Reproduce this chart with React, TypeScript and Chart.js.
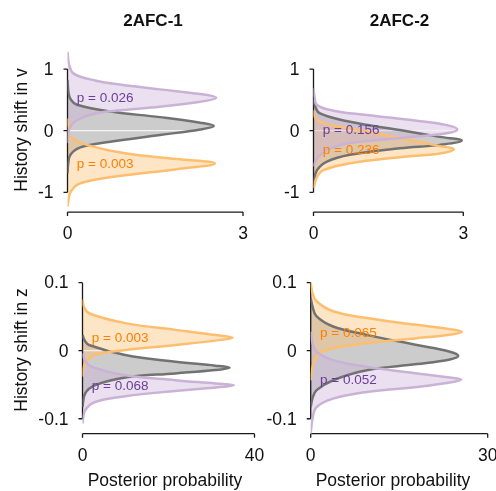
import React, { useEffect, useRef } from "react";
import { Chart, registerables } from "chart.js";
Chart.register(...registerables);

const W = 496;
const H = 491;

// ---- data: [history shift value, posterior density] ----
const afc1V_purple: number[][] = [[1.28, 0], [1.1, 0.02], [0.98, 0.06], [0.93, 0.1], [0.875, 0.22], [0.82, 0.45], [0.77, 0.73], [0.67, 1.58], [0.595, 2.27], [0.535, 2.54], [0.47, 2.27], [0.39, 1.58], [0.33, 0.9], [0.27, 0.44], [0.17, 0.16], [0.05, 0.04], [-0.1, 0.01], [-0.2, 0]];
const afc1V_gray: number[][] = [[0.82, 0], [0.6, 0.02], [0.5, 0.06], [0.42, 0.16], [0.31, 0.73], [0.22, 1.58], [0.13, 2.27], [0.076, 2.5], [0.02, 2.27], [-0.07, 1.58], [-0.18, 0.73], [-0.27, 0.22], [-0.39, 0.05], [-0.55, 0.01], [-0.69, 0]];
const afc1V_orange: number[][] = [[0.2, 0], [0.05, 0.02], [-0.1, 0.05], [-0.23, 0.33], [-0.37, 1.01], [-0.46, 1.87], [-0.53, 2.52], [-0.625, 1.87], [-0.72, 1.01], [-0.8, 0.44], [-0.88, 0.16], [-1.0, 0.05], [-1.1, 0.02], [-1.23, 0]];

const afc2V_purple: number[][] = [[0.69, 0], [0.55, 0.02], [0.417, 0.07], [0.325, 0.4], [0.255, 1.07], [0.16, 2.07], [0.09, 2.67], [0.02, 2.88], [-0.04, 2.67], [-0.12, 1.73], [-0.2, 0.73], [-0.31, 0.27], [-0.45, 0.07], [-0.58, 0]];
const afc2V_gray: number[][] = [[0.5, 0], [0.4, 0.03], [0.28, 0.13], [0.145, 0.73], [0.01, 1.73], [-0.1, 2.53], [-0.16, 2.97], [-0.23, 2.53], [-0.285, 1.73], [-0.39, 0.73], [-0.5, 0.27], [-0.64, 0.07], [-0.85, 0]];
const afc2V_orange: number[][] = [[0.33, 0], [0.2, 0.04], [0.1, 0.3], [0.04, 0.73], [-0.12, 1.73], [-0.25, 2.53], [-0.3, 2.81], [-0.37, 2.53], [-0.43, 1.73], [-0.53, 0.73], [-0.64, 0.2], [-0.75, 0.07], [-0.93, 0]];

const afc1Z_orange: number[][] = [[0.0754, 0], [0.065, 0.3], [0.055, 1.5], [0.0405, 9.95], [0.0306, 21.6], [0.0232, 30.9], [0.0192, 34.9], [0.0148, 30.9], [0.0084, 21.6], [0.001, 9.95], [-0.0064, 2.96], [-0.0187, 0.6], [-0.038, 0]];
const afc1Z_gray: number[][] = [[0.023, 0], [0.015, 0.5], [0.0084, 1.5], [-0.0064, 9.95], [-0.0163, 21.6], [-0.022, 30.9], [-0.0251, 34.2], [-0.0285, 30.9], [-0.0334, 21.6], [-0.0393, 9.95], [-0.0507, 2.96], [-0.063, 0.6], [-0.0828, 0]];
const afc1Z_purple: number[][] = [[-0.0039, 0], [-0.015, 0.6], [-0.0237, 2.2], [-0.036, 9.95], [-0.0433, 21.6], [-0.0482, 30.9], [-0.0507, 35.2], [-0.0541, 30.9], [-0.0591, 21.6], [-0.067, 9.95], [-0.0754, 2.96], [-0.0877, 0.6], [-0.107, 0]];

const afc2Z_orange: number[][] = [[0.1, 0], [0.085, 0.3], [0.0727, 1.0], [0.0579, 3.8], [0.048, 9.5], [0.038, 18], [0.0317, 23.6], [0.0277, 25.6], [0.0233, 23.6], [0.0184, 18], [0.011, 9.5], [0.001, 2.7], [-0.0089, 1.0], [-0.025, 0.3], [-0.0434, 0]];
const afc2Z_gray: number[][] = [[0.0777, 0], [0.065, 0.3], [0.0504, 1.0], [0.0356, 3.8], [0.0233, 9.5], [0.0084, 18], [-0.0015, 23.6], [-0.0079, 25.0], [-0.0128, 23.6], [-0.0197, 18], [-0.0287, 9.5], [-0.0434, 3.8], [-0.058, 1.0], [-0.07, 0.3], [-0.083, 0]];
const afc2Z_purple: number[][] = [[0.028, 0], [0.012, 0.3], [-0.0015, 1.0], [-0.0138, 3.8], [-0.0237, 9.5], [-0.0335, 18], [-0.0394, 23.6], [-0.0424, 25.5], [-0.0468, 23.6], [-0.0533, 18], [-0.0607, 9.5], [-0.0705, 3.8], [-0.083, 1.0], [-0.1, 0.3], [-0.122, 0]];

// p-values shown next to each group's peak (panels: 1v, 2v, 1z, 2z)
const pPurple = ["0.026", "0.156", "0.068", "0.052"];
const pOrange = ["0.003", "0.236", "0.003", "0.065"];

// ticks
const vTicks = [-1, 0, 1];
const vTickLabels = ["-1", "0", "1"];
const zTicks = [-0.1, 0, 0.1];
const zTickLabels = ["-0.1", "0", "0.1"];
const xTicksV = [0, 3];
const xTickLabelsV = ["0", "3"];
const xTicksZ1 = [0, 40];
const xTickLabelsZ1 = ["0", "40"];
const xTicksZ2 = [0, 30];
const xTickLabelsZ2 = ["0", "30"];

const columnTitles = ["2AFC-1", "2AFC-2"];
const rowTitles = ["History shift in v", "History shift in z"];
const xTitle = "Posterior probability";

// ---- styles ----
const PURPLE_LINE = "#cab2d6";
const PURPLE_FILL = "rgba(202,178,214,0.4)";
const PURPLE_TEXT = "#6a3d9a";
const ORANGE_LINE = "#fdbf6f";
const ORANGE_FILL = "rgba(253,191,111,0.4)";
const ORANGE_TEXT = "#ff7f00";
const GRAY_LINE = "#727272";
const GRAY_FILL = "rgba(128,128,128,0.4)";
const AXIS = "#1a1a1a";
const FONT = '"Liberation Sans", Arial, Helvetica, sans-serif';

type Series = { pts: number[][]; line: string; fill: string; label?: string; textColor?: string };
type Panel = {
  area: { left: number; right: number; top: number; bottom: number };
  yMin: number; yMax: number; xMax: number;
  yTicks: number[]; yTickLabels: string[]; xTicks: number[]; xTickLabels: string[];
  series: Series[];
  zeroLine: string | null;
  title?: { text: string; x: number; y: number };
  yTitle?: { text: string; x: number; y: number };
  xTitle?: { text: string; x: number; y: number };
};

const panels: Panel[] = [
  {
    area: { left: 67.5, right: 243, top: 49.3, bottom: 212.1 },
    yMin: -1.32, yMax: 1.32, xMax: 3,
    yTicks: vTicks, yTickLabels: vTickLabels, xTicks: xTicksV, xTickLabels: xTickLabelsV,
    series: [
      { pts: afc1V_purple, line: PURPLE_LINE, fill: PURPLE_FILL, label: "p = " + pPurple[0], textColor: PURPLE_TEXT },
      { pts: afc1V_orange, line: ORANGE_LINE, fill: ORANGE_FILL, label: "p = " + pOrange[0], textColor: ORANGE_TEXT },
      { pts: afc1V_gray, line: GRAY_LINE, fill: GRAY_FILL },
    ],
    zeroLine: "rgba(255,255,255,1)",
    title: { text: columnTitles[0], x: 153, y: 21 },
    yTitle: { text: rowTitles[0], x: 22, y: 130 },
  },
  {
    area: { left: 313.5, right: 463.3, top: 49.3, bottom: 212.1 },
    yMin: -1.32, yMax: 1.32, xMax: 3,
    yTicks: vTicks, yTickLabels: vTickLabels, xTicks: xTicksV, xTickLabels: xTickLabelsV,
    series: [
      { pts: afc2V_purple, line: PURPLE_LINE, fill: PURPLE_FILL, label: "p = " + pPurple[1], textColor: PURPLE_TEXT },
      { pts: afc2V_orange, line: ORANGE_LINE, fill: ORANGE_FILL, label: "p = " + pOrange[1], textColor: ORANGE_TEXT },
      { pts: afc2V_gray, line: GRAY_LINE, fill: GRAY_FILL },
    ],
    zeroLine: "rgba(255,255,255,0.55)",
    title: { text: columnTitles[1], x: 399.5, y: 21 },
  },
  {
    area: { left: 82.5, right: 254.5, top: 267.7, bottom: 433.7 },
    yMin: -0.122, yMax: 0.122, xMax: 40,
    yTicks: zTicks, yTickLabels: zTickLabels, xTicks: xTicksZ1, xTickLabels: xTickLabelsZ1,
    series: [
      { pts: afc1Z_purple, line: PURPLE_LINE, fill: PURPLE_FILL, label: "p = " + pPurple[2], textColor: PURPLE_TEXT },
      { pts: afc1Z_orange, line: ORANGE_LINE, fill: ORANGE_FILL, label: "p = " + pOrange[2], textColor: ORANGE_TEXT },
      { pts: afc1Z_gray, line: GRAY_LINE, fill: GRAY_FILL },
    ],
    zeroLine: "rgba(255,255,255,0.9)",
    yTitle: { text: rowTitles[1], x: 22, y: 350 },
    xTitle: { text: xTitle, x: 165, y: 481 },
  },
  {
    area: { left: 310.7, right: 487.7, top: 267.7, bottom: 433.7 },
    yMin: -0.122, yMax: 0.122, xMax: 30,
    yTicks: zTicks, yTickLabels: zTickLabels, xTicks: xTicksZ2, xTickLabels: xTickLabelsZ2,
    series: [
      { pts: afc2Z_purple, line: PURPLE_LINE, fill: PURPLE_FILL, label: "p = " + pPurple[3], textColor: PURPLE_TEXT },
      { pts: afc2Z_orange, line: ORANGE_LINE, fill: ORANGE_FILL, label: "p = " + pOrange[3], textColor: ORANGE_TEXT },
      { pts: afc2Z_gray, line: GRAY_LINE, fill: GRAY_FILL },
    ],
    zeroLine: null,
    xTitle: { text: xTitle, x: 393, y: 481 },
  },
];

function decor(p: Panel) {
  return {
    id: "decor",
    beforeDatasetsDraw(chart: any) {
      const { ctx, chartArea: a, scales } = chart;
      const x = scales.x;
      const y = scales.y;
      ctx.save();
      if (p.zeroLine) {
        const y0 = y.getPixelForValue(0);
        ctx.strokeStyle = p.zeroLine;
        ctx.lineWidth = 1;
        ctx.beginPath();
        ctx.moveTo(a.left + 1, y0);
        ctx.lineTo(a.right, y0);
        ctx.stroke();
      }
      // trimmed spines with outward ticks
      ctx.strokeStyle = AXIS;
      ctx.lineWidth = 1.3;
      const yt = p.yTicks;
      const yTop = y.getPixelForValue(Math.max(...yt));
      const yBot = y.getPixelForValue(Math.min(...yt));
      ctx.beginPath();
      ctx.moveTo(a.left, yTop);
      ctx.lineTo(a.left, yBot);
      for (const t of yt) {
        const py = y.getPixelForValue(t);
        ctx.moveTo(a.left - 4, py);
        ctx.lineTo(a.left, py);
      }
      const xt = p.xTicks;
      const xl = x.getPixelForValue(Math.min(...xt));
      const xr = x.getPixelForValue(Math.max(...xt));
      ctx.moveTo(xl, a.bottom);
      ctx.lineTo(xr, a.bottom);
      for (const t of xt) {
        const px = x.getPixelForValue(t);
        ctx.moveTo(px, a.bottom);
        ctx.lineTo(px, a.bottom + 4);
      }
      ctx.stroke();
      ctx.restore();
    },
    afterDraw(chart: any) {
      const { ctx, chartArea: a, scales } = chart;
      const x = scales.x;
      const y = scales.y;
      ctx.save();
      ctx.fillStyle = "#111";
      ctx.font = "17.5px " + FONT;
      ctx.textBaseline = "middle";
      ctx.textAlign = "right";
      p.yTicks.forEach((t, i) => {
        ctx.fillText(p.yTickLabels[i], a.left - 14, y.getPixelForValue(t) + 1);
      });
      ctx.textAlign = "center";
      p.xTicks.forEach((t, i) => {
        ctx.fillText(p.xTickLabels[i], x.getPixelForValue(t), a.bottom + 22);
      });
      if (p.xTitle) ctx.fillText(p.xTitle.text, p.xTitle.x, p.xTitle.y);
      if (p.title) {
        ctx.font = "bold 17px " + FONT;
        ctx.fillText(p.title.text, p.title.x, p.title.y);
      }
      if (p.yTitle) {
        ctx.font = "17.5px " + FONT;
        ctx.save();
        ctx.translate(p.yTitle.x, p.yTitle.y);
        ctx.rotate(-Math.PI / 2);
        ctx.fillText(p.yTitle.text, 0, 0);
        ctx.restore();
      }
      // p-value labels at each group's peak
      ctx.font = "13.5px " + FONT;
      ctx.textAlign = "left";
      for (const s of p.series) {
        if (!s.label) continue;
        let peak = s.pts[0];
        for (const pt of s.pts) if (pt[1] > peak[1]) peak = pt;
        ctx.fillStyle = s.textColor;
        ctx.fillText(s.label, a.left + 9.3, y.getPixelForValue(peak[0]) + 1);
      }
      ctx.restore();
    },
  };
}

export default function App() {
  const refs = useRef<(HTMLCanvasElement | null)[]>([]);
  useEffect(() => {
    const charts = panels.map((p, i) => {
      const canvas = refs.current[i]!;
      return new Chart(canvas, {
        type: "line",
        data: {
          datasets: p.series.map((s) => ({
            data: s.pts.map(([v, d]) => ({ x: d, y: v })),
            borderColor: s.line,
            backgroundColor: s.fill,
            fill: "origin",
            borderWidth: 2.5,
            pointRadius: 0,
            tension: 0.4,
          })),
        },
        options: {
          indexAxis: "y",
          responsive: false,
          animation: false,
          events: [],
          layout: {
            padding: {
              left: p.area.left,
              top: p.area.top,
              right: W - p.area.right,
              bottom: H - p.area.bottom,
            },
          },
          scales: {
            x: { type: "linear", display: false, min: 0, max: p.xMax },
            y: { type: "linear", display: false, min: p.yMin, max: p.yMax },
          },
          plugins: {
            legend: { display: false },
            tooltip: { enabled: false },
            filler: { drawTime: "beforeDatasetsDraw" },
          },
        } as any,
        plugins: [decor(p)],
      });
    });
    return () => charts.forEach((c) => c.destroy());
  }, []);

  return (
    <div style={{ position: "absolute", left: 0, top: 0, width: W, height: H, background: "#fff" }}>
      {panels.map((_, i) => (
        <canvas
          key={i}
          ref={(el) => { refs.current[i] = el; }}
          width={W}
          height={H}
          style={{ position: "absolute", left: 0, top: 0, width: W, height: H }}
        />
      ))}
    </div>
  );
}
